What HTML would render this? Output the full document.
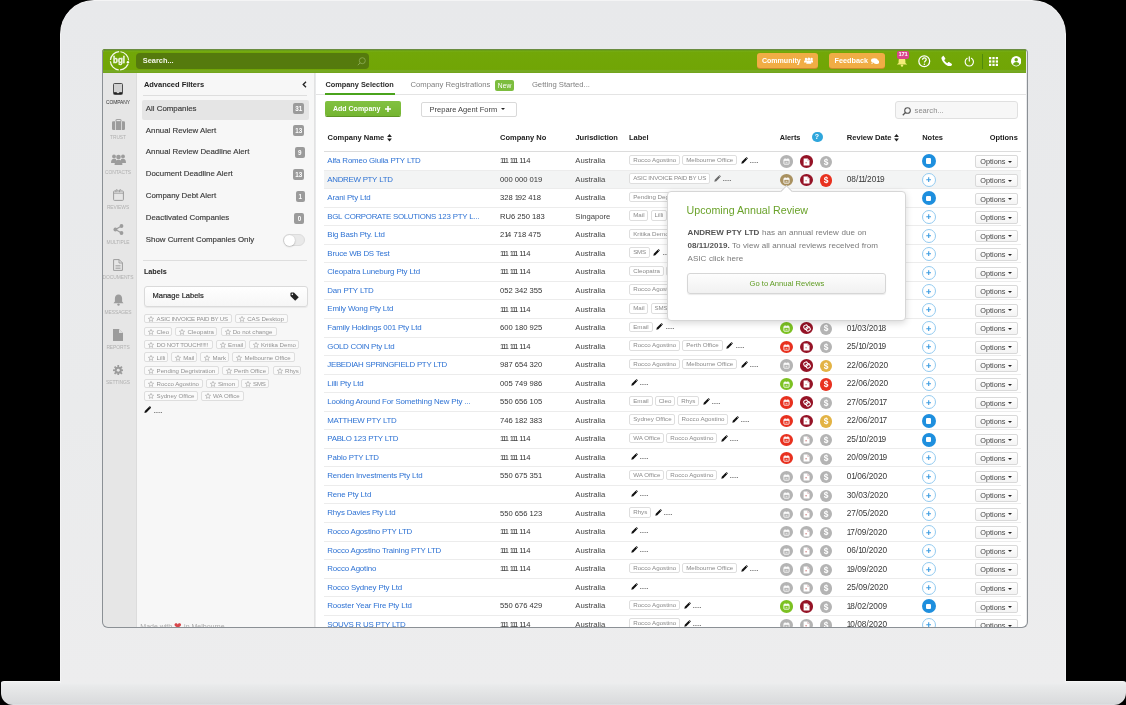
<!DOCTYPE html><html><head><meta charset="utf-8"><style>
*{box-sizing:border-box;margin:0;padding:0}
html,body{width:1126px;height:705px;overflow:hidden;background:#000}
body{position:relative;font-family:"Liberation Sans",sans-serif;color:#333}
.abs{position:absolute}
#lid{position:absolute;left:59.6px;top:0.3px;width:1006.6px;height:682.6px;background:linear-gradient(#e8e9eb,#eaebec 60%,#ededee);border-radius:34px 34px 0 0;border:1px solid #f4f4f5;border-bottom:none}
#base{position:absolute;left:0.5px;top:681.2px;width:1125px;height:23.8px;border-radius:3px 3px 12px 12px/2px 2px 12px 12px;border-top:1px solid #f6f6f6;background:linear-gradient(#eeeff0 0%,#e9eaeb 15%,#e3e4e5 45%,#dbdcde 85%,#d7d8da 95%,#e3e3e7 100%)}
#scr{position:absolute;left:0;top:0;width:1126px;height:705px;will-change:transform;clip-path:inset(49px 99.5px 78px 102px round 3px 3px 5px 5px)}
#scrbd{position:absolute;left:101.5px;top:48.5px;width:926px;height:579.2px;border:1.3px solid #8b9095;border-top:1px solid #6a8c40;border-radius:4px 4px 6px 6px}
#top{position:absolute;left:102px;top:49px;width:924px;height:24.2px;background:linear-gradient(#4c7f00 0,#4c7f00 1.3px,#7ab022 1.6px,#72a708 3px,#71a505 85%,#78ab28 91%,#71a318 100%)}
#logo{position:absolute;left:108.5px;top:49.6px}
#sbox{position:absolute;left:135.8px;top:53.3px;width:233px;height:15.6px;border-radius:4px;background:#557a0d}
#sbox span{position:absolute;left:7px;top:3.2px;font-size:7.4px;font-weight:bold;color:#f2f5ea;line-height:9px}
#side{position:absolute;left:102px;top:73px;width:35px;height:560px;background:#e6e6e6;border-right:1px solid #dcdcdc}
.sic{position:absolute;left:100.5px;width:35px;height:14px;display:flex;align-items:center;justify-content:center}
.slb{position:absolute;left:100.5px;width:35px;text-align:center;font-size:4.9px;line-height:6px;color:#b0b0b0;letter-spacing:-0.05px}
.slb.act{color:#333}
#fp{position:absolute;left:137px;top:73px;width:178.4px;height:560px;background:#f7f7f7;border-right:1px solid #e2e2e2}
.ftitle{position:absolute;left:143.9px;font-size:7.47px;font-weight:bold;color:#222;line-height:10px}
.hr{position:absolute;height:1px;background:#dedede}
#allc{position:absolute;left:142px;top:100px;width:166.5px;height:19.8px;background:#e5e5e5;border-radius:2px}
.flt{position:absolute;left:145.8px;font-size:7.86px;line-height:12px;color:#3a3a3a;-webkit-text-stroke:0.15px #3a3a3a}
.fb{position:absolute;left:0;width:305px;text-align:right;font-size:5.6px;line-height:11px;color:#fff}
.fb{display:none}
.fbx{position:absolute;height:11px;background:#9b9b9b;border-radius:2px;color:#fff;font-size:6.3px;font-weight:bold;line-height:11px;text-align:center;letter-spacing:-0.2px}
#tog{position:absolute;left:283px;top:234.3px;width:21.5px;height:11.5px;border-radius:6px;background:#e9e9e9;border:1px solid #dcdcdc}
#tog i{position:absolute;left:-0.5px;top:-0.5px;width:11px;height:11px;border-radius:50%;background:#fff;box-shadow:0 0.5px 1.5px rgba(0,0,0,.35)}
#mlab{position:absolute;left:143.9px;top:285.7px;width:163.8px;height:21px;background:linear-gradient(#fff,#f6f6f6);border:1px solid #dadada;border-radius:3px;box-shadow:0 1px 1px rgba(0,0,0,.06)}
#mlab span{position:absolute;left:7.6px;top:4.7px;font-size:7.5px;line-height:10px;color:#2a2a2a;-webkit-text-stroke:0.2px #2a2a2a}
.lchip{position:absolute;height:9.6px;border:1px solid #dedede;border-radius:2px;background:#fafafa;white-space:nowrap;overflow:hidden}
.lchip .star{position:absolute;left:3px;top:1.2px}
.lchip span{position:absolute;left:11.2px;top:0.3px;font-size:6.1px;line-height:7px;color:#929292}
#main{position:absolute;left:316px;top:73px;width:710px;height:560px;background:#fff}
.tab{position:absolute;top:80.4px;font-size:7.7px;line-height:10px;color:#808080;white-space:nowrap}
.row{position:absolute;left:324px;width:697px;height:18.545px;border-bottom:1px solid #ececec}
.row.hov{background:#f3f4f4}
.row > span{position:absolute}
.cn{left:3.3px;top:4.0px;font-size:7.9px;letter-spacing:-0.15px;line-height:9px;color:#2f73d4;white-space:nowrap}
.cno{left:176px;top:4.1px;font-size:7.6px;line-height:9px;color:#333;white-space:nowrap}
.jur{left:251.3px;top:4.1px;font-size:7.7px;line-height:9px;color:#444}
.lab{left:305.3px;top:2.5px;height:10.6px;display:flex;align-items:center;white-space:nowrap}
.chip{display:inline-block;height:10.6px;border:1px solid #dedede;border-radius:2px;padding:0 2.9px;font-size:6.2px;line-height:8.4px;color:#8a8a8a;margin-right:2.2px;background:#fff}
.chip.uc{letter-spacing:-0.2px}
.uc{font-style:normal;letter-spacing:-0.3px}
.pen{margin-left:1.4px;margin-right:2.4px;position:relative;top:0.2px}
.dots{position:relative;top:2.2px}
.n1{font-style:normal;letter-spacing:-1.35px}
.n1:last-child{letter-spacing:0}
.ai{position:absolute;top:3.3px;width:13px;height:12.2px;border-radius:50%;display:flex;align-items:center;justify-content:center}
.dol{font-size:8.4px;font-weight:bold;color:#fff;line-height:9px;position:relative;top:0.2px}
.ai2{width:12.2px !important;height:12.2px !important;margin-left:0.4px;margin-top:0.4px}
.rd{left:522.7px;top:4.6px;font-size:8.3px;line-height:9.5px;color:#3a3a3a}
.rd .n1{letter-spacing:-1.05px}
.nt{position:absolute;left:597.6px;top:2.3px;width:14px;height:14px;border-radius:50%}
.ntf{background:#1e8fde}
.ntf span{position:absolute;left:4.1px;top:4.1px;width:5.8px;height:5.8px;background:#fff;border-radius:1.1px}
.ntp{border:1px solid #93caef;background:#fff}
.ntp svg{position:absolute;left:3.3px;top:3.3px}
.opt{left:651.3px;top:3.4px;width:43.2px;height:12.7px;border:1px solid #d9d9d9;border-radius:2px;background:linear-gradient(#fff,#f4f4f4);font-size:7.3px;line-height:11px;color:#444;padding-left:4px}
.car{position:absolute;left:32.2px;top:4.5px;width:0;height:0;border-left:2.6px solid transparent;border-right:2.6px solid transparent;border-top:2.9px solid #222}
.hd{position:absolute;top:132.8px;font-size:7.5px;font-weight:bold;line-height:10px;color:#222;white-space:nowrap}
</style></head><body><div id="base"></div><div id="lid"></div><div id="scr"><div id="main"></div><div id="side"></div><div class="sic" style="top:82.2px"><svg width="10" height="12" viewBox="0 0 10 12" style="margin-top:-1px"><rect x="0.5" y="0.5" width="9" height="11" rx="1" fill="#d0d0d0" stroke="#3c3c3c" stroke-width="0.9"/><rect x="1" y="9.2" width="8" height="1.8" fill="#222"/><rect x="3.8" y="9.2" width="2.4" height="0.9" fill="#f2f2f2"/></svg></div><div class="slb act" style="top:99.7px">COMPANY</div><div class="sic" style="top:117.2px"><svg width="13" height="11" viewBox="0 0 13 11"><rect x="0" y="2.2" width="13" height="8.8" rx="1.2" fill="#9c9c9c"/><rect x="4" y="0.4" width="5" height="2.6" rx="0.6" fill="none" stroke="#9c9c9c" stroke-width="1"/><rect x="3" y="2.2" width="0.8" height="8.8" fill="#e4e4e4"/><rect x="9.2" y="2.2" width="0.8" height="8.8" fill="#e4e4e4"/></svg></div><div class="slb" style="top:135.0px">TRUST</div><div class="sic" style="top:152.0px"><svg width="15" height="11" viewBox="0 0 15 11"><circle cx="3" cy="2.4" r="1.9" fill="#9c9c9c"/><circle cx="12" cy="2.4" r="1.9" fill="#9c9c9c"/><circle cx="7.5" cy="3" r="2.3" fill="#9c9c9c"/><path d="M0 9c0-3 1.2-4.2 3-4.2s2 .6 2 .6v3.6z" fill="#9c9c9c"/><path d="M15 9c0-3-1.2-4.2-3-4.2s-2 .6-2 .6v3.6z" fill="#9c9c9c"/><path d="M3.6 11c0-4 1.6-5.3 3.9-5.3s3.9 1.3 3.9 5.3z" fill="#9c9c9c"/></svg></div><div class="slb" style="top:169.5px">CONTACTS</div><div class="sic" style="top:187.5px"><svg width="11" height="12" viewBox="0 0 11 12"><rect x="0.6" y="2" width="9.8" height="9.4" rx="0.8" fill="none" stroke="#9c9c9c" stroke-width="1"/><path d="M0.6 4.2h9.8" stroke="#9c9c9c" stroke-width="0.9"/><path d="M2.9 3.2V1.4a0.8 0.8 0 0 1 1.6 0M6.5 3.2V1.4a0.8 0.8 0 0 1 1.6 0" fill="none" stroke="#9c9c9c" stroke-width="0.9"/></svg></div><div class="slb" style="top:204.7px">REVIEWS</div><div class="sic" style="top:222.7px"><svg width="11" height="11" viewBox="0 0 11 11"><path d="M8.5 2L2.5 5.5L8.5 9" stroke="#9c9c9c" stroke-width="1.1" fill="none"/><circle cx="8.5" cy="2" r="1.9" fill="#9c9c9c"/><circle cx="2.4" cy="5.5" r="1.9" fill="#9c9c9c"/><circle cx="8.5" cy="9" r="1.9" fill="#9c9c9c"/></svg></div><div class="slb" style="top:239.8px">MULTIPLE</div><div class="sic" style="top:257.8px"><svg width="10" height="12" viewBox="0 0 10 12"><path d="M0.6 0.6h5.6l3.2 3.2v7.6h-8.8z" fill="none" stroke="#9c9c9c" stroke-width="1"/><path d="M6 0.6v3.4h3.4" fill="none" stroke="#9c9c9c" stroke-width="0.9"/><path d="M2.5 6.5h5M2.5 8h5M2.5 9.5h5" stroke="#9c9c9c" stroke-width="0.7"/></svg></div><div class="slb" style="top:275.0px">DOCUMENTS</div><div class="sic" style="top:292.6px"><svg width="11" height="12" viewBox="0 0 11 12"><path d="M5.5 0.5c-2.4 0-3.6 1.8-3.6 4v3L0.5 9.3h10L9.1 7.5v-3c0-2.2-1.2-4-3.6-4z" fill="#9c9c9c"/><circle cx="5.5" cy="10.6" r="1.2" fill="#9c9c9c"/></svg></div><div class="slb" style="top:310.0px">MESSAGES</div><div class="sic" style="top:328.0px"><svg width="10" height="12" viewBox="0 0 10 12"><path d="M0 0h6l4 4v8h-10z" fill="#9c9c9c"/><path d="M6 0v4h4" fill="#ddd"/></svg></div><div class="slb" style="top:344.8px">REPORTS</div><div class="sic" style="top:362.8px"><svg width="10.5" height="10.5" viewBox="0 0 12 12"><g fill="#9c9c9c"><circle cx="6" cy="6" r="4"/><rect x="5" y="0" width="2" height="12"/><rect x="0" y="5" width="12" height="2"/><rect x="5" y="0" width="2" height="12" transform="rotate(45 6 6)"/><rect x="5" y="0" width="2" height="12" transform="rotate(-45 6 6)"/></g><circle cx="6" cy="6" r="1.7" fill="#e6e6e6"/></svg></div><div class="slb" style="top:380.1px">SETTINGS</div><div id="fp"></div><div class="ftitle" style="top:79.5px">Advanced Filters</div><svg class="abs" style="left:301.5px;top:81px" width="5" height="7" viewBox="0 0 5 7"><path d="M4 0.7L1.2 3.5 4 6.3" stroke="#222" stroke-width="1.3" fill="none"/></svg><div class="hr" style="left:143px;top:94.5px;width:164px"></div><div id="allc"></div><div class="flt" style="top:102.7px">All Companies</div><div class="fb" style="top:103.3px">31</div><div class="flt" style="top:124.7px">Annual Review Alert</div><div class="fb" style="top:125.3px">13</div><div class="flt" style="top:146.2px">Annual Review Deadline Alert</div><div class="fb" style="top:146.8px">9</div><div class="flt" style="top:168.1px">Document Deadline Alert</div><div class="fb" style="top:168.7px">13</div><div class="flt" style="top:190.0px">Company Debt Alert</div><div class="fb" style="top:190.6px">1</div><div class="flt" style="top:212.0px">Deactivated Companies</div><div class="fb" style="top:212.6px">0</div><div class="fbx" style="left:292.8px;top:103.2px;width:11.7px">31</div><div class="fbx" style="left:292.8px;top:125.2px;width:11.7px">13</div><div class="fbx" style="left:295px;top:146.7px;width:9.5px">9</div><div class="fbx" style="left:292.8px;top:168.6px;width:11.7px">13</div><div class="fbx" style="left:296px;top:190.5px;width:8.5px">1</div><div class="fbx" style="left:294.4px;top:212.5px;width:10.1px">0</div><div class="flt" style="top:234px">Show Current Companies Only</div><div id="tog"><i></i></div><div class="hr" style="left:143px;top:260px;width:164px"></div><div class="ftitle" style="top:267.2px;font-size:7.26px">Labels</div><div id="mlab"><span>Manage Labels</span><svg class="abs" style="left:145.5px;top:5px" width="9" height="9" viewBox="0 0 10 10"><path d="M0.5 1.2v3.2l5.3 5.3 3.9-3.9L4.4 0.5H1.2z" fill="#222"/><circle cx="2.6" cy="2.6" r="0.9" fill="#fff"/></svg></div><div class="lchip" style="left:144.4px;top:313.9px;width:88.1px"><svg class="star" width="6" height="6" viewBox="0 0 10 10"><path d="M5 0.6l1.3 2.9 3.1.3-2.4 2.1.7 3.1L5 7.4 2.3 9l.7-3.1L.6 3.8l3.1-.3z" fill="none" stroke="#999" stroke-width="0.9" stroke-linejoin="round"/></svg><span style="white-space:nowrap;letter-spacing:-0.22px">ASIC INVOICE PAID BY US</span></div><div class="lchip" style="left:235.0px;top:313.9px;width:52.6px"><svg class="star" width="6" height="6" viewBox="0 0 10 10"><path d="M5 0.6l1.3 2.9 3.1.3-2.4 2.1.7 3.1L5 7.4 2.3 9l.7-3.1L.6 3.8l3.1-.3z" fill="none" stroke="#999" stroke-width="0.9" stroke-linejoin="round"/></svg><span style="white-space:nowrap">CAS Desktop</span></div><div class="lchip" style="left:144.4px;top:326.7px;width:28.1px"><svg class="star" width="6" height="6" viewBox="0 0 10 10"><path d="M5 0.6l1.3 2.9 3.1.3-2.4 2.1.7 3.1L5 7.4 2.3 9l.7-3.1L.6 3.8l3.1-.3z" fill="none" stroke="#999" stroke-width="0.9" stroke-linejoin="round"/></svg><span style="white-space:nowrap">Cleo</span></div><div class="lchip" style="left:175.3px;top:326.7px;width:42.1px"><svg class="star" width="6" height="6" viewBox="0 0 10 10"><path d="M5 0.6l1.3 2.9 3.1.3-2.4 2.1.7 3.1L5 7.4 2.3 9l.7-3.1L.6 3.8l3.1-.3z" fill="none" stroke="#999" stroke-width="0.9" stroke-linejoin="round"/></svg><span style="white-space:nowrap">Cleopatra</span></div><div class="lchip" style="left:220.5px;top:326.7px;width:56.1px"><svg class="star" width="6" height="6" viewBox="0 0 10 10"><path d="M5 0.6l1.3 2.9 3.1.3-2.4 2.1.7 3.1L5 7.4 2.3 9l.7-3.1L.6 3.8l3.1-.3z" fill="none" stroke="#999" stroke-width="0.9" stroke-linejoin="round"/></svg><span style="white-space:nowrap">Do not change</span></div><div class="lchip" style="left:144.4px;top:339.7px;width:68.9px"><svg class="star" width="6" height="6" viewBox="0 0 10 10"><path d="M5 0.6l1.3 2.9 3.1.3-2.4 2.1.7 3.1L5 7.4 2.3 9l.7-3.1L.6 3.8l3.1-.3z" fill="none" stroke="#999" stroke-width="0.9" stroke-linejoin="round"/></svg><span style="white-space:nowrap;letter-spacing:-0.22px">DO NOT TOUCH!!!!!</span></div><div class="lchip" style="left:215.9px;top:339.7px;width:30.1px"><svg class="star" width="6" height="6" viewBox="0 0 10 10"><path d="M5 0.6l1.3 2.9 3.1.3-2.4 2.1.7 3.1L5 7.4 2.3 9l.7-3.1L.6 3.8l3.1-.3z" fill="none" stroke="#999" stroke-width="0.9" stroke-linejoin="round"/></svg><span style="white-space:nowrap">Email</span></div><div class="lchip" style="left:248.8px;top:339.7px;width:50.2px"><svg class="star" width="6" height="6" viewBox="0 0 10 10"><path d="M5 0.6l1.3 2.9 3.1.3-2.4 2.1.7 3.1L5 7.4 2.3 9l.7-3.1L.6 3.8l3.1-.3z" fill="none" stroke="#999" stroke-width="0.9" stroke-linejoin="round"/></svg><span style="white-space:nowrap">Kritika Demo</span></div><div class="lchip" style="left:144.4px;top:352.4px;width:23.8px"><svg class="star" width="6" height="6" viewBox="0 0 10 10"><path d="M5 0.6l1.3 2.9 3.1.3-2.4 2.1.7 3.1L5 7.4 2.3 9l.7-3.1L.6 3.8l3.1-.3z" fill="none" stroke="#999" stroke-width="0.9" stroke-linejoin="round"/></svg><span style="white-space:nowrap">Lilli</span></div><div class="lchip" style="left:171.0px;top:352.4px;width:26.3px"><svg class="star" width="6" height="6" viewBox="0 0 10 10"><path d="M5 0.6l1.3 2.9 3.1.3-2.4 2.1.7 3.1L5 7.4 2.3 9l.7-3.1L.6 3.8l3.1-.3z" fill="none" stroke="#999" stroke-width="0.9" stroke-linejoin="round"/></svg><span style="white-space:nowrap">Mail</span></div><div class="lchip" style="left:200.3px;top:352.4px;width:29.1px"><svg class="star" width="6" height="6" viewBox="0 0 10 10"><path d="M5 0.6l1.3 2.9 3.1.3-2.4 2.1.7 3.1L5 7.4 2.3 9l.7-3.1L.6 3.8l3.1-.3z" fill="none" stroke="#999" stroke-width="0.9" stroke-linejoin="round"/></svg><span style="white-space:nowrap">Mark</span></div><div class="lchip" style="left:232.2px;top:352.4px;width:63.0px"><svg class="star" width="6" height="6" viewBox="0 0 10 10"><path d="M5 0.6l1.3 2.9 3.1.3-2.4 2.1.7 3.1L5 7.4 2.3 9l.7-3.1L.6 3.8l3.1-.3z" fill="none" stroke="#999" stroke-width="0.9" stroke-linejoin="round"/></svg><span style="white-space:nowrap">Melbourne Office</span></div><div class="lchip" style="left:144.4px;top:365.7px;width:74.8px"><svg class="star" width="6" height="6" viewBox="0 0 10 10"><path d="M5 0.6l1.3 2.9 3.1.3-2.4 2.1.7 3.1L5 7.4 2.3 9l.7-3.1L.6 3.8l3.1-.3z" fill="none" stroke="#999" stroke-width="0.9" stroke-linejoin="round"/></svg><span style="white-space:nowrap">Pending Degristration</span></div><div class="lchip" style="left:221.8px;top:365.7px;width:47.7px"><svg class="star" width="6" height="6" viewBox="0 0 10 10"><path d="M5 0.6l1.3 2.9 3.1.3-2.4 2.1.7 3.1L5 7.4 2.3 9l.7-3.1L.6 3.8l3.1-.3z" fill="none" stroke="#999" stroke-width="0.9" stroke-linejoin="round"/></svg><span style="white-space:nowrap">Perth Office</span></div><div class="lchip" style="left:272.8px;top:365.7px;width:28.6px"><svg class="star" width="6" height="6" viewBox="0 0 10 10"><path d="M5 0.6l1.3 2.9 3.1.3-2.4 2.1.7 3.1L5 7.4 2.3 9l.7-3.1L.6 3.8l3.1-.3z" fill="none" stroke="#999" stroke-width="0.9" stroke-linejoin="round"/></svg><span style="white-space:nowrap">Rhys</span></div><div class="lchip" style="left:144.4px;top:378.5px;width:59.0px"><svg class="star" width="6" height="6" viewBox="0 0 10 10"><path d="M5 0.6l1.3 2.9 3.1.3-2.4 2.1.7 3.1L5 7.4 2.3 9l.7-3.1L.6 3.8l3.1-.3z" fill="none" stroke="#999" stroke-width="0.9" stroke-linejoin="round"/></svg><span style="white-space:nowrap">Rocco Agostino</span></div><div class="lchip" style="left:205.7px;top:378.5px;width:32.9px"><svg class="star" width="6" height="6" viewBox="0 0 10 10"><path d="M5 0.6l1.3 2.9 3.1.3-2.4 2.1.7 3.1L5 7.4 2.3 9l.7-3.1L.6 3.8l3.1-.3z" fill="none" stroke="#999" stroke-width="0.9" stroke-linejoin="round"/></svg><span style="white-space:nowrap">Simon</span></div><div class="lchip" style="left:240.9px;top:378.5px;width:28.6px"><svg class="star" width="6" height="6" viewBox="0 0 10 10"><path d="M5 0.6l1.3 2.9 3.1.3-2.4 2.1.7 3.1L5 7.4 2.3 9l.7-3.1L.6 3.8l3.1-.3z" fill="none" stroke="#999" stroke-width="0.9" stroke-linejoin="round"/></svg><span style="white-space:nowrap;letter-spacing:-0.22px">SMS</span></div><div class="lchip" style="left:144.4px;top:391.2px;width:53.6px"><svg class="star" width="6" height="6" viewBox="0 0 10 10"><path d="M5 0.6l1.3 2.9 3.1.3-2.4 2.1.7 3.1L5 7.4 2.3 9l.7-3.1L.6 3.8l3.1-.3z" fill="none" stroke="#999" stroke-width="0.9" stroke-linejoin="round"/></svg><span style="white-space:nowrap">Sydney Office</span></div><div class="lchip" style="left:200.8px;top:391.2px;width:42.9px"><svg class="star" width="6" height="6" viewBox="0 0 10 10"><path d="M5 0.6l1.3 2.9 3.1.3-2.4 2.1.7 3.1L5 7.4 2.3 9l.7-3.1L.6 3.8l3.1-.3z" fill="none" stroke="#999" stroke-width="0.9" stroke-linejoin="round"/></svg><span style="white-space:nowrap">WA Office</span></div><svg class="abs" style="left:144px;top:405.6px" width="7.4" height="7.4" viewBox="0 0 7 7"><path d="M0.4 6.6l0.4-1.9 4-4 1.5 1.5-4 4z" fill="#111"/><path d="M4.9 0.6l0.6-0.5 1.4 1.4-0.5 0.6z" fill="#111"/></svg><div class="abs" style="left:153.5px;top:408.6px;line-height:0"><svg  width="9" height="3" viewBox="0 0 9 3"><g fill="#444"><circle cx="0.8" cy="1.5" r="0.55"/><circle cx="2.95" cy="1.5" r="0.55"/><circle cx="5.1" cy="1.5" r="0.55"/><circle cx="7.25" cy="1.5" r="0.55"/></g></svg></div><div class="abs" style="left:140.3px;top:623.1px;font-size:7px;color:#aaa;white-space:nowrap">Made with <span style="color:#d8474b;font-size:8.5px;line-height:7px">&#10084;</span> in Melbourne</div><div class="hr" style="left:316px;top:93.8px;width:710px;background:#e4e4e4"></div><div class="tab" style="left:325.4px;top:79.6px;color:#2a2a2a;font-weight:bold;font-size:7.37px">Company Selection</div><div class="abs" style="left:324.5px;top:92.7px;width:70.5px;height:1.9px;background:#4aa31c"></div><div class="tab" style="left:410.5px">Company Registrations</div><div class="abs" style="left:495.2px;top:79.6px;width:18.7px;height:11.2px;background:#7cbd3e;border-radius:2px;color:#fff;font-size:6.7px;line-height:11.2px;text-align:center">New</div><div class="tab" style="left:531.9px">Getting Started...</div><div class="abs" style="left:324.5px;top:101.2px;width:76.2px;height:15.2px;background:linear-gradient(#82c142,#74b530);border-radius:2px;box-shadow:0 1px 0 #5e9524;color:#fff;font-size:7px;font-weight:bold;line-height:15.4px;padding-left:8.5px">Add Company<svg class="abs" style="left:60.5px;top:4.5px" width="6" height="6" viewBox="0 0 6 6"><path d="M3 0v6M0 3h6" stroke="#fff" stroke-width="1.5"/></svg></div><div class="abs" style="left:420.6px;top:102.3px;width:96.2px;height:14.5px;background:#fff;border:1px solid #d9d9d9;border-radius:2px;color:#444;font-size:7.53px;line-height:13.5px;padding-left:8px">Prepare Agent Form<i class="car" style="left:79.6px;top:5.2px"></i></div><div class="abs" style="left:895px;top:101.2px;width:123px;height:18.3px;background:#f7f7f7;border:1px solid #e0e0e0;border-radius:3px"></div><svg class="abs" style="left:902px;top:106.8px" width="9" height="9" viewBox="0 0 8 8"><circle cx="4.9" cy="3.1" r="2.5" fill="none" stroke="#555" stroke-width="0.95"/><path d="M3.1 4.9L0.7 7.3" stroke="#555" stroke-width="1.1"/></svg><div class="abs" style="left:914.6px;top:106.3px;font-size:7.6px;line-height:10px;color:#8a8a8a">search...</div><div class="hd" style="left:327.6px">Company Name<svg style="position:absolute;top:1.3px;margin-left:2.6px" width="5" height="7.6" viewBox="0 0 4.4 7"><path d="M2.2 0L4.4 2.8H0z M2.2 7L4.4 4.2H0z" fill="#222"/></svg></div><div class="hd" style="left:500px">Company No</div><div class="hd" style="left:575.4px">Jurisdiction</div><div class="hd" style="left:629px">Label</div><div class="hd" style="left:779.7px;font-size:7.3px">Alerts</div><div class="abs" style="left:811.5px;top:132.2px;width:11px;height:10px;border-radius:5px;background:#2fa6dc;color:#fff;font-size:7px;font-weight:bold;line-height:10px;text-align:center">?</div><div class="hd" style="left:846.8px;font-size:7.6px">Review Date<svg style="position:absolute;top:1.3px;margin-left:2.6px" width="5" height="7.6" viewBox="0 0 4.4 7"><path d="M2.2 0L4.4 2.8H0z M2.2 7L4.4 4.2H0z" fill="#222"/></svg></div><div class="hd" style="left:922.2px">Notes</div><div class="hd" style="left:989.7px;font-size:7.45px">Options</div><div class="abs" style="left:324px;top:151px;width:697px;height:1.3px;background:#dcdcdc"></div><div class="row" style="top:152.10px"><span class="cn">Alfa Romeo Giulia <i class="uc">PTY</i> <i class="uc">LTD</i></span><span class="cno"><i class="n1">1</i><i class="n1">1</i><i class="n1">1</i> <i class="n1">1</i><i class="n1">1</i><i class="n1">1</i> <i class="n1">1</i><i class="n1">1</i>4</span><span class="jur">Australia</span><span class="lab"><span class="chip">Rocco Agostino</span><span class="chip">Melbourne Office</span><svg class="pen" width="7" height="7" viewBox="0 0 7 7"><path d="M0.3 6.7l0.5-2 3.9-3.9 1.5 1.5-3.9 3.9z" fill="#111"/><path d="M5 0.5l0.6-0.5 1.4 1.4-0.5 0.6z" fill="#111"/></svg><svg class="dots" width="9" height="3" viewBox="0 0 9 3"><g fill="#444"><circle cx="0.8" cy="1.5" r="0.55"/><circle cx="2.95" cy="1.5" r="0.55"/><circle cx="5.1" cy="1.5" r="0.55"/><circle cx="7.25" cy="1.5" r="0.55"/></g></svg></span><span class="ai" style="left:455.5px;background:#b4b4b4"><svg width="7" height="7" viewBox="0 0 7 7" style="margin-top:0.6px"><rect x="0.9" y="1.3" width="5.2" height="4.9" rx="0.5" fill="none" stroke="#fff" stroke-width="0.85"/><rect x="0.9" y="1.3" width="5.2" height="1.5" fill="#fff"/><rect x="1.7" y="0.4" width="0.8" height="1.3" fill="#fff"/><rect x="4.5" y="0.4" width="0.8" height="1.3" fill="#fff"/><rect x="2.6" y="3.8" width="1.8" height="1.3" fill="#fff" opacity="0.55"/></svg></span><span class="ai" style="left:476px;background:#951326"><svg width="7" height="8" viewBox="0 0 7 8" style="margin-top:0.4px"><path d="M0.6 0.6h4l1.9 1.9v5h-5.9z" fill="#fff"/><path d="M4.6 0.6v1.9h1.9" fill="none" stroke="#c9a0a6" stroke-width="0.5"/><rect x="2.4" y="4" width="1.4" height="1.4" fill="#c77" opacity="0.8"/></svg></span><span class="ai ai2" style="left:495.5px;background:#b4b4b4"><span class="dol">$</span></span><span class="nt ntf"><span></span></span><span class="opt">Options <i class="car"></i></span></div>
<div class="row hov" style="top:170.64px"><span class="cn"><i class="uc">ANDREW</i> <i class="uc">PTY</i> <i class="uc">LTD</i></span><span class="cno">000 000 0<i class="n1">1</i>9</span><span class="jur">Australia</span><span class="lab"><span class="chip uc">ASIC INVOICE PAID BY US</span><svg class="pen" width="7" height="7" viewBox="0 0 7 7"><path d="M0.3 6.7l0.5-2 3.9-3.9 1.5 1.5-3.9 3.9z" fill="#6a6a6a"/><path d="M5 0.5l0.6-0.5 1.4 1.4-0.5 0.6z" fill="#6a6a6a"/></svg><svg class="dots" width="9" height="3" viewBox="0 0 9 3"><g fill="#444"><circle cx="0.8" cy="1.5" r="0.55"/><circle cx="2.95" cy="1.5" r="0.55"/><circle cx="5.1" cy="1.5" r="0.55"/><circle cx="7.25" cy="1.5" r="0.55"/></g></svg></span><span class="ai" style="left:455.5px;background:#a99160"><svg width="7" height="7" viewBox="0 0 7 7" style="margin-top:0.6px"><rect x="0.9" y="1.3" width="5.2" height="4.9" rx="0.5" fill="none" stroke="#fff" stroke-width="0.85"/><rect x="0.9" y="1.3" width="5.2" height="1.5" fill="#fff"/><rect x="1.7" y="0.4" width="0.8" height="1.3" fill="#fff"/><rect x="4.5" y="0.4" width="0.8" height="1.3" fill="#fff"/><rect x="2.6" y="3.8" width="1.8" height="1.3" fill="#fff" opacity="0.55"/></svg></span><span class="ai" style="left:476px;background:#951326"><svg width="7" height="8" viewBox="0 0 7 8" style="margin-top:0.4px"><path d="M0.6 0.6h4l1.9 1.9v5h-5.9z" fill="#fff"/><path d="M4.6 0.6v1.9h1.9" fill="none" stroke="#c9a0a6" stroke-width="0.5"/><rect x="2.4" y="4" width="1.4" height="1.4" fill="#c77" opacity="0.8"/></svg></span><span class="ai ai2" style="left:495.5px;background:#e8311f"><span class="dol">$</span></span><span class="rd">08/<i class="n1">1</i><i class="n1">1</i>/20<i class="n1">1</i>9</span><span class="nt ntp"><svg width="5.4" height="5.4" viewBox="0 0 6 6"><path d="M3 0.3v5.4M0.3 3h5.4" stroke="#3d9de2" stroke-width="1.25"/></svg></span><span class="opt">Options <i class="car"></i></span></div>
<div class="row" style="top:189.19px"><span class="cn">Arani Pty Ltd</span><span class="cno">328 <i class="n1">1</i>92 4<i class="n1">1</i>8</span><span class="jur">Australia</span><span class="lab"><span class="chip">Pending Degristration</span><svg class="pen" width="7" height="7" viewBox="0 0 7 7"><path d="M0.3 6.7l0.5-2 3.9-3.9 1.5 1.5-3.9 3.9z" fill="#111"/><path d="M5 0.5l0.6-0.5 1.4 1.4-0.5 0.6z" fill="#111"/></svg><svg class="dots" width="9" height="3" viewBox="0 0 9 3"><g fill="#444"><circle cx="0.8" cy="1.5" r="0.55"/><circle cx="2.95" cy="1.5" r="0.55"/><circle cx="5.1" cy="1.5" r="0.55"/><circle cx="7.25" cy="1.5" r="0.55"/></g></svg></span><span class="nt ntf"><span></span></span><span class="opt">Options <i class="car"></i></span></div>
<div class="row" style="top:207.74px"><span class="cn"><i class="uc">BGL</i> <i class="uc">CORPORATE</i> <i class="uc">SOLUTIONS</i> 123 <i class="uc">PTY</i> L...</span><span class="cno">RU6 250 <i class="n1">1</i>83</span><span class="jur">Singapore</span><span class="lab"><span class="chip">Mail</span><span class="chip">Lilli</span><svg class="pen" width="7" height="7" viewBox="0 0 7 7"><path d="M0.3 6.7l0.5-2 3.9-3.9 1.5 1.5-3.9 3.9z" fill="#111"/><path d="M5 0.5l0.6-0.5 1.4 1.4-0.5 0.6z" fill="#111"/></svg><svg class="dots" width="9" height="3" viewBox="0 0 9 3"><g fill="#444"><circle cx="0.8" cy="1.5" r="0.55"/><circle cx="2.95" cy="1.5" r="0.55"/><circle cx="5.1" cy="1.5" r="0.55"/><circle cx="7.25" cy="1.5" r="0.55"/></g></svg></span><span class="nt ntp"><svg width="5.4" height="5.4" viewBox="0 0 6 6"><path d="M3 0.3v5.4M0.3 3h5.4" stroke="#3d9de2" stroke-width="1.25"/></svg></span><span class="opt">Options <i class="car"></i></span></div>
<div class="row" style="top:226.28px"><span class="cn">Big Bash Pty. Ltd</span><span class="cno">2<i class="n1">1</i>4 7<i class="n1">1</i>8 475</span><span class="jur">Australia</span><span class="lab"><span class="chip">Kritika Demo</span><svg class="pen" width="7" height="7" viewBox="0 0 7 7"><path d="M0.3 6.7l0.5-2 3.9-3.9 1.5 1.5-3.9 3.9z" fill="#111"/><path d="M5 0.5l0.6-0.5 1.4 1.4-0.5 0.6z" fill="#111"/></svg><svg class="dots" width="9" height="3" viewBox="0 0 9 3"><g fill="#444"><circle cx="0.8" cy="1.5" r="0.55"/><circle cx="2.95" cy="1.5" r="0.55"/><circle cx="5.1" cy="1.5" r="0.55"/><circle cx="7.25" cy="1.5" r="0.55"/></g></svg></span><span class="nt ntp"><svg width="5.4" height="5.4" viewBox="0 0 6 6"><path d="M3 0.3v5.4M0.3 3h5.4" stroke="#3d9de2" stroke-width="1.25"/></svg></span><span class="opt">Options <i class="car"></i></span></div>
<div class="row" style="top:244.82px"><span class="cn">Bruce <i class="uc">WB</i> <i class="uc">DS</i> Test</span><span class="cno"><i class="n1">1</i><i class="n1">1</i><i class="n1">1</i> <i class="n1">1</i><i class="n1">1</i><i class="n1">1</i> <i class="n1">1</i><i class="n1">1</i>4</span><span class="jur">Australia</span><span class="lab"><span class="chip uc">SMS</span><svg class="pen" width="7" height="7" viewBox="0 0 7 7"><path d="M0.3 6.7l0.5-2 3.9-3.9 1.5 1.5-3.9 3.9z" fill="#111"/><path d="M5 0.5l0.6-0.5 1.4 1.4-0.5 0.6z" fill="#111"/></svg><svg class="dots" width="9" height="3" viewBox="0 0 9 3"><g fill="#444"><circle cx="0.8" cy="1.5" r="0.55"/><circle cx="2.95" cy="1.5" r="0.55"/><circle cx="5.1" cy="1.5" r="0.55"/><circle cx="7.25" cy="1.5" r="0.55"/></g></svg></span><span class="nt ntp"><svg width="5.4" height="5.4" viewBox="0 0 6 6"><path d="M3 0.3v5.4M0.3 3h5.4" stroke="#3d9de2" stroke-width="1.25"/></svg></span><span class="opt">Options <i class="car"></i></span></div>
<div class="row" style="top:263.37px"><span class="cn">Cleopatra Luneburg Pty Ltd</span><span class="cno"><i class="n1">1</i><i class="n1">1</i><i class="n1">1</i> <i class="n1">1</i><i class="n1">1</i><i class="n1">1</i> <i class="n1">1</i><i class="n1">1</i>4</span><span class="jur">Australia</span><span class="lab"><span class="chip">Cleopatra</span><span class="chip">Cleo</span><svg class="pen" width="7" height="7" viewBox="0 0 7 7"><path d="M0.3 6.7l0.5-2 3.9-3.9 1.5 1.5-3.9 3.9z" fill="#111"/><path d="M5 0.5l0.6-0.5 1.4 1.4-0.5 0.6z" fill="#111"/></svg><svg class="dots" width="9" height="3" viewBox="0 0 9 3"><g fill="#444"><circle cx="0.8" cy="1.5" r="0.55"/><circle cx="2.95" cy="1.5" r="0.55"/><circle cx="5.1" cy="1.5" r="0.55"/><circle cx="7.25" cy="1.5" r="0.55"/></g></svg></span><span class="nt ntp"><svg width="5.4" height="5.4" viewBox="0 0 6 6"><path d="M3 0.3v5.4M0.3 3h5.4" stroke="#3d9de2" stroke-width="1.25"/></svg></span><span class="opt">Options <i class="car"></i></span></div>
<div class="row" style="top:281.91px"><span class="cn">Dan <i class="uc">PTY</i> <i class="uc">LTD</i></span><span class="cno">052 342 355</span><span class="jur">Australia</span><span class="lab"><span class="chip">Rocco Agostino</span><svg class="pen" width="7" height="7" viewBox="0 0 7 7"><path d="M0.3 6.7l0.5-2 3.9-3.9 1.5 1.5-3.9 3.9z" fill="#111"/><path d="M5 0.5l0.6-0.5 1.4 1.4-0.5 0.6z" fill="#111"/></svg><svg class="dots" width="9" height="3" viewBox="0 0 9 3"><g fill="#444"><circle cx="0.8" cy="1.5" r="0.55"/><circle cx="2.95" cy="1.5" r="0.55"/><circle cx="5.1" cy="1.5" r="0.55"/><circle cx="7.25" cy="1.5" r="0.55"/></g></svg></span><span class="nt ntp"><svg width="5.4" height="5.4" viewBox="0 0 6 6"><path d="M3 0.3v5.4M0.3 3h5.4" stroke="#3d9de2" stroke-width="1.25"/></svg></span><span class="opt">Options <i class="car"></i></span></div>
<div class="row" style="top:300.46px"><span class="cn">Emily Wong Pty Ltd</span><span class="cno"><i class="n1">1</i><i class="n1">1</i><i class="n1">1</i> <i class="n1">1</i><i class="n1">1</i><i class="n1">1</i> <i class="n1">1</i><i class="n1">1</i>4</span><span class="jur">Australia</span><span class="lab"><span class="chip">Mail</span><span class="chip uc">SMS</span><svg class="pen" width="7" height="7" viewBox="0 0 7 7"><path d="M0.3 6.7l0.5-2 3.9-3.9 1.5 1.5-3.9 3.9z" fill="#111"/><path d="M5 0.5l0.6-0.5 1.4 1.4-0.5 0.6z" fill="#111"/></svg><svg class="dots" width="9" height="3" viewBox="0 0 9 3"><g fill="#444"><circle cx="0.8" cy="1.5" r="0.55"/><circle cx="2.95" cy="1.5" r="0.55"/><circle cx="5.1" cy="1.5" r="0.55"/><circle cx="7.25" cy="1.5" r="0.55"/></g></svg></span><span class="nt ntp"><svg width="5.4" height="5.4" viewBox="0 0 6 6"><path d="M3 0.3v5.4M0.3 3h5.4" stroke="#3d9de2" stroke-width="1.25"/></svg></span><span class="opt">Options <i class="car"></i></span></div>
<div class="row" style="top:319.00px"><span class="cn">Family Holdings 001 Pty Ltd</span><span class="cno">600 <i class="n1">1</i>80 925</span><span class="jur">Australia</span><span class="lab"><span class="chip">Email</span><svg class="pen" width="7" height="7" viewBox="0 0 7 7"><path d="M0.3 6.7l0.5-2 3.9-3.9 1.5 1.5-3.9 3.9z" fill="#111"/><path d="M5 0.5l0.6-0.5 1.4 1.4-0.5 0.6z" fill="#111"/></svg><svg class="dots" width="9" height="3" viewBox="0 0 9 3"><g fill="#444"><circle cx="0.8" cy="1.5" r="0.55"/><circle cx="2.95" cy="1.5" r="0.55"/><circle cx="5.1" cy="1.5" r="0.55"/><circle cx="7.25" cy="1.5" r="0.55"/></g></svg></span><span class="ai" style="left:455.5px;background:#7cc122"><svg width="7" height="7" viewBox="0 0 7 7" style="margin-top:0.6px"><rect x="0.9" y="1.3" width="5.2" height="4.9" rx="0.5" fill="none" stroke="#fff" stroke-width="0.85"/><rect x="0.9" y="1.3" width="5.2" height="1.5" fill="#fff"/><rect x="1.7" y="0.4" width="0.8" height="1.3" fill="#fff"/><rect x="4.5" y="0.4" width="0.8" height="1.3" fill="#fff"/><rect x="2.6" y="3.8" width="1.8" height="1.3" fill="#fff" opacity="0.55"/></svg></span><span class="ai" style="left:476px;background:#951326"><svg width="8" height="8" viewBox="0 0 8 8"><rect x="0.9" y="1.2" width="4" height="4" rx="1.4" fill="none" stroke="#fff" stroke-width="1.05" transform="rotate(-30 2.9 3.2)"/><rect x="3.1" y="2.9" width="4" height="4" rx="1.4" fill="none" stroke="#fff" stroke-width="1.05" transform="rotate(-30 5.1 4.9)"/></svg></span><span class="ai ai2" style="left:495.5px;background:#b4b4b4"><span class="dol">$</span></span><span class="rd">0<i class="n1">1</i>/03/20<i class="n1">1</i>8</span><span class="nt ntp"><svg width="5.4" height="5.4" viewBox="0 0 6 6"><path d="M3 0.3v5.4M0.3 3h5.4" stroke="#3d9de2" stroke-width="1.25"/></svg></span><span class="opt">Options <i class="car"></i></span></div>
<div class="row" style="top:337.55px"><span class="cn"><i class="uc">GOLD</i> <i class="uc">COIN</i> Pty Ltd</span><span class="cno"><i class="n1">1</i><i class="n1">1</i><i class="n1">1</i> <i class="n1">1</i><i class="n1">1</i><i class="n1">1</i> <i class="n1">1</i><i class="n1">1</i>4</span><span class="jur">Australia</span><span class="lab"><span class="chip">Rocco Agostino</span><span class="chip">Perth Office</span><svg class="pen" width="7" height="7" viewBox="0 0 7 7"><path d="M0.3 6.7l0.5-2 3.9-3.9 1.5 1.5-3.9 3.9z" fill="#111"/><path d="M5 0.5l0.6-0.5 1.4 1.4-0.5 0.6z" fill="#111"/></svg><svg class="dots" width="9" height="3" viewBox="0 0 9 3"><g fill="#444"><circle cx="0.8" cy="1.5" r="0.55"/><circle cx="2.95" cy="1.5" r="0.55"/><circle cx="5.1" cy="1.5" r="0.55"/><circle cx="7.25" cy="1.5" r="0.55"/></g></svg></span><span class="ai" style="left:455.5px;background:#e8311f"><svg width="7" height="7" viewBox="0 0 7 7" style="margin-top:0.6px"><rect x="0.9" y="1.3" width="5.2" height="4.9" rx="0.5" fill="none" stroke="#fff" stroke-width="0.85"/><rect x="0.9" y="1.3" width="5.2" height="1.5" fill="#fff"/><rect x="1.7" y="0.4" width="0.8" height="1.3" fill="#fff"/><rect x="4.5" y="0.4" width="0.8" height="1.3" fill="#fff"/><rect x="2.6" y="3.8" width="1.8" height="1.3" fill="#fff" opacity="0.55"/></svg></span><span class="ai" style="left:476px;background:#951326"><svg width="7" height="8" viewBox="0 0 7 8" style="margin-top:0.4px"><path d="M0.6 0.6h4l1.9 1.9v5h-5.9z" fill="#fff"/><path d="M4.6 0.6v1.9h1.9" fill="none" stroke="#c9a0a6" stroke-width="0.5"/><rect x="2.4" y="4" width="1.4" height="1.4" fill="#c77" opacity="0.8"/></svg></span><span class="ai ai2" style="left:495.5px;background:#b4b4b4"><span class="dol">$</span></span><span class="rd">25/<i class="n1">1</i>0/20<i class="n1">1</i>9</span><span class="nt ntp"><svg width="5.4" height="5.4" viewBox="0 0 6 6"><path d="M3 0.3v5.4M0.3 3h5.4" stroke="#3d9de2" stroke-width="1.25"/></svg></span><span class="opt">Options <i class="car"></i></span></div>
<div class="row" style="top:356.10px"><span class="cn"><i class="uc">JEBEDIAH</i> <i class="uc">SPRINGFIELD</i> <i class="uc">PTY</i> <i class="uc">LTD</i></span><span class="cno">987 654 320</span><span class="jur">Australia</span><span class="lab"><span class="chip">Rocco Agostino</span><span class="chip">Melbourne Office</span><svg class="pen" width="7" height="7" viewBox="0 0 7 7"><path d="M0.3 6.7l0.5-2 3.9-3.9 1.5 1.5-3.9 3.9z" fill="#111"/><path d="M5 0.5l0.6-0.5 1.4 1.4-0.5 0.6z" fill="#111"/></svg><svg class="dots" width="9" height="3" viewBox="0 0 9 3"><g fill="#444"><circle cx="0.8" cy="1.5" r="0.55"/><circle cx="2.95" cy="1.5" r="0.55"/><circle cx="5.1" cy="1.5" r="0.55"/><circle cx="7.25" cy="1.5" r="0.55"/></g></svg></span><span class="ai" style="left:455.5px;background:#b4b4b4"><svg width="7" height="7" viewBox="0 0 7 7" style="margin-top:0.6px"><rect x="0.9" y="1.3" width="5.2" height="4.9" rx="0.5" fill="none" stroke="#fff" stroke-width="0.85"/><rect x="0.9" y="1.3" width="5.2" height="1.5" fill="#fff"/><rect x="1.7" y="0.4" width="0.8" height="1.3" fill="#fff"/><rect x="4.5" y="0.4" width="0.8" height="1.3" fill="#fff"/><rect x="2.6" y="3.8" width="1.8" height="1.3" fill="#fff" opacity="0.55"/></svg></span><span class="ai" style="left:476px;background:#951326"><svg width="8" height="8" viewBox="0 0 8 8"><rect x="0.9" y="1.2" width="4" height="4" rx="1.4" fill="none" stroke="#fff" stroke-width="1.05" transform="rotate(-30 2.9 3.2)"/><rect x="3.1" y="2.9" width="4" height="4" rx="1.4" fill="none" stroke="#fff" stroke-width="1.05" transform="rotate(-30 5.1 4.9)"/></svg></span><span class="ai ai2" style="left:495.5px;background:#e3b345"><span class="dol">$</span></span><span class="rd">22/06/2020</span><span class="nt ntp"><svg width="5.4" height="5.4" viewBox="0 0 6 6"><path d="M3 0.3v5.4M0.3 3h5.4" stroke="#3d9de2" stroke-width="1.25"/></svg></span><span class="opt">Options <i class="car"></i></span></div>
<div class="row" style="top:374.64px"><span class="cn">Lilli Pty Ltd</span><span class="cno">005 749 986</span><span class="jur">Australia</span><span class="lab"><svg class="pen" width="7" height="7" viewBox="0 0 7 7"><path d="M0.3 6.7l0.5-2 3.9-3.9 1.5 1.5-3.9 3.9z" fill="#111"/><path d="M5 0.5l0.6-0.5 1.4 1.4-0.5 0.6z" fill="#111"/></svg><svg class="dots" width="9" height="3" viewBox="0 0 9 3"><g fill="#444"><circle cx="0.8" cy="1.5" r="0.55"/><circle cx="2.95" cy="1.5" r="0.55"/><circle cx="5.1" cy="1.5" r="0.55"/><circle cx="7.25" cy="1.5" r="0.55"/></g></svg></span><span class="ai" style="left:455.5px;background:#7cc122"><svg width="7" height="7" viewBox="0 0 7 7" style="margin-top:0.6px"><rect x="0.9" y="1.3" width="5.2" height="4.9" rx="0.5" fill="none" stroke="#fff" stroke-width="0.85"/><rect x="0.9" y="1.3" width="5.2" height="1.5" fill="#fff"/><rect x="1.7" y="0.4" width="0.8" height="1.3" fill="#fff"/><rect x="4.5" y="0.4" width="0.8" height="1.3" fill="#fff"/><rect x="2.6" y="3.8" width="1.8" height="1.3" fill="#fff" opacity="0.55"/></svg></span><span class="ai" style="left:476px;background:#951326"><svg width="7" height="8" viewBox="0 0 7 8" style="margin-top:0.4px"><path d="M0.6 0.6h4l1.9 1.9v5h-5.9z" fill="#fff"/><path d="M4.6 0.6v1.9h1.9" fill="none" stroke="#c9a0a6" stroke-width="0.5"/><rect x="2.4" y="4" width="1.4" height="1.4" fill="#c77" opacity="0.8"/></svg></span><span class="ai ai2" style="left:495.5px;background:#e8311f"><span class="dol">$</span></span><span class="rd">22/06/2020</span><span class="nt ntp"><svg width="5.4" height="5.4" viewBox="0 0 6 6"><path d="M3 0.3v5.4M0.3 3h5.4" stroke="#3d9de2" stroke-width="1.25"/></svg></span><span class="opt">Options <i class="car"></i></span></div>
<div class="row" style="top:393.19px"><span class="cn">Looking Around For Something New Pty ...</span><span class="cno">550 656 <i class="n1">1</i>05</span><span class="jur">Australia</span><span class="lab"><span class="chip">Email</span><span class="chip">Cleo</span><span class="chip">Rhys</span><svg class="pen" width="7" height="7" viewBox="0 0 7 7"><path d="M0.3 6.7l0.5-2 3.9-3.9 1.5 1.5-3.9 3.9z" fill="#111"/><path d="M5 0.5l0.6-0.5 1.4 1.4-0.5 0.6z" fill="#111"/></svg><svg class="dots" width="9" height="3" viewBox="0 0 9 3"><g fill="#444"><circle cx="0.8" cy="1.5" r="0.55"/><circle cx="2.95" cy="1.5" r="0.55"/><circle cx="5.1" cy="1.5" r="0.55"/><circle cx="7.25" cy="1.5" r="0.55"/></g></svg></span><span class="ai" style="left:455.5px;background:#e8311f"><svg width="7" height="7" viewBox="0 0 7 7" style="margin-top:0.6px"><rect x="0.9" y="1.3" width="5.2" height="4.9" rx="0.5" fill="none" stroke="#fff" stroke-width="0.85"/><rect x="0.9" y="1.3" width="5.2" height="1.5" fill="#fff"/><rect x="1.7" y="0.4" width="0.8" height="1.3" fill="#fff"/><rect x="4.5" y="0.4" width="0.8" height="1.3" fill="#fff"/><rect x="2.6" y="3.8" width="1.8" height="1.3" fill="#fff" opacity="0.55"/></svg></span><span class="ai" style="left:476px;background:#951326"><svg width="8" height="8" viewBox="0 0 8 8"><rect x="0.9" y="1.2" width="4" height="4" rx="1.4" fill="none" stroke="#fff" stroke-width="1.05" transform="rotate(-30 2.9 3.2)"/><rect x="3.1" y="2.9" width="4" height="4" rx="1.4" fill="none" stroke="#fff" stroke-width="1.05" transform="rotate(-30 5.1 4.9)"/></svg></span><span class="ai ai2" style="left:495.5px;background:#b4b4b4"><span class="dol">$</span></span><span class="rd">27/05/20<i class="n1">1</i>7</span><span class="nt ntp"><svg width="5.4" height="5.4" viewBox="0 0 6 6"><path d="M3 0.3v5.4M0.3 3h5.4" stroke="#3d9de2" stroke-width="1.25"/></svg></span><span class="opt">Options <i class="car"></i></span></div>
<div class="row" style="top:411.73px"><span class="cn"><i class="uc">MATTHEW</i> <i class="uc">PTY</i> <i class="uc">LTD</i></span><span class="cno">746 <i class="n1">1</i>82 383</span><span class="jur">Australia</span><span class="lab"><span class="chip">Sydney Office</span><span class="chip">Rocco Agostino</span><svg class="pen" width="7" height="7" viewBox="0 0 7 7"><path d="M0.3 6.7l0.5-2 3.9-3.9 1.5 1.5-3.9 3.9z" fill="#111"/><path d="M5 0.5l0.6-0.5 1.4 1.4-0.5 0.6z" fill="#111"/></svg><svg class="dots" width="9" height="3" viewBox="0 0 9 3"><g fill="#444"><circle cx="0.8" cy="1.5" r="0.55"/><circle cx="2.95" cy="1.5" r="0.55"/><circle cx="5.1" cy="1.5" r="0.55"/><circle cx="7.25" cy="1.5" r="0.55"/></g></svg></span><span class="ai" style="left:455.5px;background:#e8311f"><svg width="7" height="7" viewBox="0 0 7 7" style="margin-top:0.6px"><rect x="0.9" y="1.3" width="5.2" height="4.9" rx="0.5" fill="none" stroke="#fff" stroke-width="0.85"/><rect x="0.9" y="1.3" width="5.2" height="1.5" fill="#fff"/><rect x="1.7" y="0.4" width="0.8" height="1.3" fill="#fff"/><rect x="4.5" y="0.4" width="0.8" height="1.3" fill="#fff"/><rect x="2.6" y="3.8" width="1.8" height="1.3" fill="#fff" opacity="0.55"/></svg></span><span class="ai" style="left:476px;background:#951326"><svg width="7" height="8" viewBox="0 0 7 8" style="margin-top:0.4px"><path d="M0.6 0.6h4l1.9 1.9v5h-5.9z" fill="#fff"/><path d="M4.6 0.6v1.9h1.9" fill="none" stroke="#c9a0a6" stroke-width="0.5"/><rect x="2.4" y="4" width="1.4" height="1.4" fill="#c77" opacity="0.8"/></svg></span><span class="ai ai2" style="left:495.5px;background:#e3b345"><span class="dol">$</span></span><span class="rd">22/06/20<i class="n1">1</i>7</span><span class="nt ntf"><span></span></span><span class="opt">Options <i class="car"></i></span></div>
<div class="row" style="top:430.27px"><span class="cn"><i class="uc">PABLO</i> 123 <i class="uc">PTY</i> <i class="uc">LTD</i></span><span class="cno"><i class="n1">1</i><i class="n1">1</i><i class="n1">1</i> <i class="n1">1</i><i class="n1">1</i><i class="n1">1</i> <i class="n1">1</i><i class="n1">1</i>4</span><span class="jur">Australia</span><span class="lab"><span class="chip">WA Office</span><span class="chip">Rocco Agostino</span><svg class="pen" width="7" height="7" viewBox="0 0 7 7"><path d="M0.3 6.7l0.5-2 3.9-3.9 1.5 1.5-3.9 3.9z" fill="#111"/><path d="M5 0.5l0.6-0.5 1.4 1.4-0.5 0.6z" fill="#111"/></svg><svg class="dots" width="9" height="3" viewBox="0 0 9 3"><g fill="#444"><circle cx="0.8" cy="1.5" r="0.55"/><circle cx="2.95" cy="1.5" r="0.55"/><circle cx="5.1" cy="1.5" r="0.55"/><circle cx="7.25" cy="1.5" r="0.55"/></g></svg></span><span class="ai" style="left:455.5px;background:#e8311f"><svg width="7" height="7" viewBox="0 0 7 7" style="margin-top:0.6px"><rect x="0.9" y="1.3" width="5.2" height="4.9" rx="0.5" fill="none" stroke="#fff" stroke-width="0.85"/><rect x="0.9" y="1.3" width="5.2" height="1.5" fill="#fff"/><rect x="1.7" y="0.4" width="0.8" height="1.3" fill="#fff"/><rect x="4.5" y="0.4" width="0.8" height="1.3" fill="#fff"/><rect x="2.6" y="3.8" width="1.8" height="1.3" fill="#fff" opacity="0.55"/></svg></span><span class="ai" style="left:476px;background:#b4b4b4"><svg width="7" height="8" viewBox="0 0 7 8" style="margin-top:0.4px"><path d="M0.6 0.6h4l1.9 1.9v5h-5.9z" fill="#fff"/><path d="M4.6 0.6v1.9h1.9" fill="none" stroke="#c9a0a6" stroke-width="0.5"/><rect x="2.4" y="4" width="1.4" height="1.4" fill="#c77" opacity="0.8"/></svg></span><span class="ai ai2" style="left:495.5px;background:#b4b4b4"><span class="dol">$</span></span><span class="rd">25/<i class="n1">1</i>0/20<i class="n1">1</i>9</span><span class="nt ntf"><span></span></span><span class="opt">Options <i class="car"></i></span></div>
<div class="row" style="top:448.82px"><span class="cn">Pablo <i class="uc">PTY</i> <i class="uc">LTD</i></span><span class="cno"><i class="n1">1</i><i class="n1">1</i><i class="n1">1</i> <i class="n1">1</i><i class="n1">1</i><i class="n1">1</i> <i class="n1">1</i><i class="n1">1</i>4</span><span class="jur">Australia</span><span class="lab"><svg class="pen" width="7" height="7" viewBox="0 0 7 7"><path d="M0.3 6.7l0.5-2 3.9-3.9 1.5 1.5-3.9 3.9z" fill="#111"/><path d="M5 0.5l0.6-0.5 1.4 1.4-0.5 0.6z" fill="#111"/></svg><svg class="dots" width="9" height="3" viewBox="0 0 9 3"><g fill="#444"><circle cx="0.8" cy="1.5" r="0.55"/><circle cx="2.95" cy="1.5" r="0.55"/><circle cx="5.1" cy="1.5" r="0.55"/><circle cx="7.25" cy="1.5" r="0.55"/></g></svg></span><span class="ai" style="left:455.5px;background:#e8311f"><svg width="7" height="7" viewBox="0 0 7 7" style="margin-top:0.6px"><rect x="0.9" y="1.3" width="5.2" height="4.9" rx="0.5" fill="none" stroke="#fff" stroke-width="0.85"/><rect x="0.9" y="1.3" width="5.2" height="1.5" fill="#fff"/><rect x="1.7" y="0.4" width="0.8" height="1.3" fill="#fff"/><rect x="4.5" y="0.4" width="0.8" height="1.3" fill="#fff"/><rect x="2.6" y="3.8" width="1.8" height="1.3" fill="#fff" opacity="0.55"/></svg></span><span class="ai" style="left:476px;background:#b4b4b4"><svg width="7" height="8" viewBox="0 0 7 8" style="margin-top:0.4px"><path d="M0.6 0.6h4l1.9 1.9v5h-5.9z" fill="#fff"/><path d="M4.6 0.6v1.9h1.9" fill="none" stroke="#c9a0a6" stroke-width="0.5"/><rect x="2.4" y="4" width="1.4" height="1.4" fill="#c77" opacity="0.8"/></svg></span><span class="ai ai2" style="left:495.5px;background:#b4b4b4"><span class="dol">$</span></span><span class="rd">20/09/20<i class="n1">1</i>9</span><span class="nt ntp"><svg width="5.4" height="5.4" viewBox="0 0 6 6"><path d="M3 0.3v5.4M0.3 3h5.4" stroke="#3d9de2" stroke-width="1.25"/></svg></span><span class="opt">Options <i class="car"></i></span></div>
<div class="row" style="top:467.37px"><span class="cn">Renden Investments Pty Ltd</span><span class="cno">550 675 35<i class="n1">1</i></span><span class="jur">Australia</span><span class="lab"><span class="chip">WA Office</span><span class="chip">Rocco Agostino</span><svg class="pen" width="7" height="7" viewBox="0 0 7 7"><path d="M0.3 6.7l0.5-2 3.9-3.9 1.5 1.5-3.9 3.9z" fill="#111"/><path d="M5 0.5l0.6-0.5 1.4 1.4-0.5 0.6z" fill="#111"/></svg><svg class="dots" width="9" height="3" viewBox="0 0 9 3"><g fill="#444"><circle cx="0.8" cy="1.5" r="0.55"/><circle cx="2.95" cy="1.5" r="0.55"/><circle cx="5.1" cy="1.5" r="0.55"/><circle cx="7.25" cy="1.5" r="0.55"/></g></svg></span><span class="ai" style="left:455.5px;background:#b4b4b4"><svg width="7" height="7" viewBox="0 0 7 7" style="margin-top:0.6px"><rect x="0.9" y="1.3" width="5.2" height="4.9" rx="0.5" fill="none" stroke="#fff" stroke-width="0.85"/><rect x="0.9" y="1.3" width="5.2" height="1.5" fill="#fff"/><rect x="1.7" y="0.4" width="0.8" height="1.3" fill="#fff"/><rect x="4.5" y="0.4" width="0.8" height="1.3" fill="#fff"/><rect x="2.6" y="3.8" width="1.8" height="1.3" fill="#fff" opacity="0.55"/></svg></span><span class="ai" style="left:476px;background:#b4b4b4"><svg width="7" height="8" viewBox="0 0 7 8" style="margin-top:0.4px"><path d="M0.6 0.6h4l1.9 1.9v5h-5.9z" fill="#fff"/><path d="M4.6 0.6v1.9h1.9" fill="none" stroke="#c9a0a6" stroke-width="0.5"/><rect x="2.4" y="4" width="1.4" height="1.4" fill="#c77" opacity="0.8"/></svg></span><span class="ai ai2" style="left:495.5px;background:#b4b4b4"><span class="dol">$</span></span><span class="rd">0<i class="n1">1</i>/06/2020</span><span class="nt ntp"><svg width="5.4" height="5.4" viewBox="0 0 6 6"><path d="M3 0.3v5.4M0.3 3h5.4" stroke="#3d9de2" stroke-width="1.25"/></svg></span><span class="opt">Options <i class="car"></i></span></div>
<div class="row" style="top:485.91px"><span class="cn">Rene Pty Ltd</span><span class="cno"></span><span class="jur">Australia</span><span class="lab"><svg class="pen" width="7" height="7" viewBox="0 0 7 7"><path d="M0.3 6.7l0.5-2 3.9-3.9 1.5 1.5-3.9 3.9z" fill="#111"/><path d="M5 0.5l0.6-0.5 1.4 1.4-0.5 0.6z" fill="#111"/></svg><svg class="dots" width="9" height="3" viewBox="0 0 9 3"><g fill="#444"><circle cx="0.8" cy="1.5" r="0.55"/><circle cx="2.95" cy="1.5" r="0.55"/><circle cx="5.1" cy="1.5" r="0.55"/><circle cx="7.25" cy="1.5" r="0.55"/></g></svg></span><span class="ai" style="left:455.5px;background:#b4b4b4"><svg width="7" height="7" viewBox="0 0 7 7" style="margin-top:0.6px"><rect x="0.9" y="1.3" width="5.2" height="4.9" rx="0.5" fill="none" stroke="#fff" stroke-width="0.85"/><rect x="0.9" y="1.3" width="5.2" height="1.5" fill="#fff"/><rect x="1.7" y="0.4" width="0.8" height="1.3" fill="#fff"/><rect x="4.5" y="0.4" width="0.8" height="1.3" fill="#fff"/><rect x="2.6" y="3.8" width="1.8" height="1.3" fill="#fff" opacity="0.55"/></svg></span><span class="ai" style="left:476px;background:#b4b4b4"><svg width="7" height="8" viewBox="0 0 7 8" style="margin-top:0.4px"><path d="M0.6 0.6h4l1.9 1.9v5h-5.9z" fill="#fff"/><path d="M4.6 0.6v1.9h1.9" fill="none" stroke="#c9a0a6" stroke-width="0.5"/><rect x="2.4" y="4" width="1.4" height="1.4" fill="#c77" opacity="0.8"/></svg></span><span class="ai ai2" style="left:495.5px;background:#b4b4b4"><span class="dol">$</span></span><span class="rd">30/03/2020</span><span class="nt ntp"><svg width="5.4" height="5.4" viewBox="0 0 6 6"><path d="M3 0.3v5.4M0.3 3h5.4" stroke="#3d9de2" stroke-width="1.25"/></svg></span><span class="opt">Options <i class="car"></i></span></div>
<div class="row" style="top:504.46px"><span class="cn">Rhys Davies Pty Ltd</span><span class="cno">550 656 <i class="n1">1</i>23</span><span class="jur">Australia</span><span class="lab"><span class="chip">Rhys</span><svg class="pen" width="7" height="7" viewBox="0 0 7 7"><path d="M0.3 6.7l0.5-2 3.9-3.9 1.5 1.5-3.9 3.9z" fill="#111"/><path d="M5 0.5l0.6-0.5 1.4 1.4-0.5 0.6z" fill="#111"/></svg><svg class="dots" width="9" height="3" viewBox="0 0 9 3"><g fill="#444"><circle cx="0.8" cy="1.5" r="0.55"/><circle cx="2.95" cy="1.5" r="0.55"/><circle cx="5.1" cy="1.5" r="0.55"/><circle cx="7.25" cy="1.5" r="0.55"/></g></svg></span><span class="ai" style="left:455.5px;background:#b4b4b4"><svg width="7" height="7" viewBox="0 0 7 7" style="margin-top:0.6px"><rect x="0.9" y="1.3" width="5.2" height="4.9" rx="0.5" fill="none" stroke="#fff" stroke-width="0.85"/><rect x="0.9" y="1.3" width="5.2" height="1.5" fill="#fff"/><rect x="1.7" y="0.4" width="0.8" height="1.3" fill="#fff"/><rect x="4.5" y="0.4" width="0.8" height="1.3" fill="#fff"/><rect x="2.6" y="3.8" width="1.8" height="1.3" fill="#fff" opacity="0.55"/></svg></span><span class="ai" style="left:476px;background:#b4b4b4"><svg width="7" height="8" viewBox="0 0 7 8" style="margin-top:0.4px"><path d="M0.6 0.6h4l1.9 1.9v5h-5.9z" fill="#fff"/><path d="M4.6 0.6v1.9h1.9" fill="none" stroke="#c9a0a6" stroke-width="0.5"/><rect x="2.4" y="4" width="1.4" height="1.4" fill="#c77" opacity="0.8"/></svg></span><span class="ai ai2" style="left:495.5px;background:#b4b4b4"><span class="dol">$</span></span><span class="rd">27/05/2020</span><span class="nt ntp"><svg width="5.4" height="5.4" viewBox="0 0 6 6"><path d="M3 0.3v5.4M0.3 3h5.4" stroke="#3d9de2" stroke-width="1.25"/></svg></span><span class="opt">Options <i class="car"></i></span></div>
<div class="row" style="top:523.00px"><span class="cn">Rocco Agostino <i class="uc">PTY</i> <i class="uc">LTD</i></span><span class="cno"><i class="n1">1</i><i class="n1">1</i><i class="n1">1</i> <i class="n1">1</i><i class="n1">1</i><i class="n1">1</i> <i class="n1">1</i><i class="n1">1</i>4</span><span class="jur">Australia</span><span class="lab"><svg class="pen" width="7" height="7" viewBox="0 0 7 7"><path d="M0.3 6.7l0.5-2 3.9-3.9 1.5 1.5-3.9 3.9z" fill="#111"/><path d="M5 0.5l0.6-0.5 1.4 1.4-0.5 0.6z" fill="#111"/></svg><svg class="dots" width="9" height="3" viewBox="0 0 9 3"><g fill="#444"><circle cx="0.8" cy="1.5" r="0.55"/><circle cx="2.95" cy="1.5" r="0.55"/><circle cx="5.1" cy="1.5" r="0.55"/><circle cx="7.25" cy="1.5" r="0.55"/></g></svg></span><span class="ai" style="left:455.5px;background:#b4b4b4"><svg width="7" height="7" viewBox="0 0 7 7" style="margin-top:0.6px"><rect x="0.9" y="1.3" width="5.2" height="4.9" rx="0.5" fill="none" stroke="#fff" stroke-width="0.85"/><rect x="0.9" y="1.3" width="5.2" height="1.5" fill="#fff"/><rect x="1.7" y="0.4" width="0.8" height="1.3" fill="#fff"/><rect x="4.5" y="0.4" width="0.8" height="1.3" fill="#fff"/><rect x="2.6" y="3.8" width="1.8" height="1.3" fill="#fff" opacity="0.55"/></svg></span><span class="ai" style="left:476px;background:#b4b4b4"><svg width="7" height="8" viewBox="0 0 7 8" style="margin-top:0.4px"><path d="M0.6 0.6h4l1.9 1.9v5h-5.9z" fill="#fff"/><path d="M4.6 0.6v1.9h1.9" fill="none" stroke="#c9a0a6" stroke-width="0.5"/><rect x="2.4" y="4" width="1.4" height="1.4" fill="#c77" opacity="0.8"/></svg></span><span class="ai ai2" style="left:495.5px;background:#b4b4b4"><span class="dol">$</span></span><span class="rd"><i class="n1">1</i>7/09/2020</span><span class="nt ntp"><svg width="5.4" height="5.4" viewBox="0 0 6 6"><path d="M3 0.3v5.4M0.3 3h5.4" stroke="#3d9de2" stroke-width="1.25"/></svg></span><span class="opt">Options <i class="car"></i></span></div>
<div class="row" style="top:541.55px"><span class="cn">Rocco Agostino Training <i class="uc">PTY</i> <i class="uc">LTD</i></span><span class="cno"><i class="n1">1</i><i class="n1">1</i><i class="n1">1</i> <i class="n1">1</i><i class="n1">1</i><i class="n1">1</i> <i class="n1">1</i><i class="n1">1</i>4</span><span class="jur">Australia</span><span class="lab"><svg class="pen" width="7" height="7" viewBox="0 0 7 7"><path d="M0.3 6.7l0.5-2 3.9-3.9 1.5 1.5-3.9 3.9z" fill="#111"/><path d="M5 0.5l0.6-0.5 1.4 1.4-0.5 0.6z" fill="#111"/></svg><svg class="dots" width="9" height="3" viewBox="0 0 9 3"><g fill="#444"><circle cx="0.8" cy="1.5" r="0.55"/><circle cx="2.95" cy="1.5" r="0.55"/><circle cx="5.1" cy="1.5" r="0.55"/><circle cx="7.25" cy="1.5" r="0.55"/></g></svg></span><span class="ai" style="left:455.5px;background:#b4b4b4"><svg width="7" height="7" viewBox="0 0 7 7" style="margin-top:0.6px"><rect x="0.9" y="1.3" width="5.2" height="4.9" rx="0.5" fill="none" stroke="#fff" stroke-width="0.85"/><rect x="0.9" y="1.3" width="5.2" height="1.5" fill="#fff"/><rect x="1.7" y="0.4" width="0.8" height="1.3" fill="#fff"/><rect x="4.5" y="0.4" width="0.8" height="1.3" fill="#fff"/><rect x="2.6" y="3.8" width="1.8" height="1.3" fill="#fff" opacity="0.55"/></svg></span><span class="ai" style="left:476px;background:#b4b4b4"><svg width="7" height="8" viewBox="0 0 7 8" style="margin-top:0.4px"><path d="M0.6 0.6h4l1.9 1.9v5h-5.9z" fill="#fff"/><path d="M4.6 0.6v1.9h1.9" fill="none" stroke="#c9a0a6" stroke-width="0.5"/><rect x="2.4" y="4" width="1.4" height="1.4" fill="#c77" opacity="0.8"/></svg></span><span class="ai ai2" style="left:495.5px;background:#b4b4b4"><span class="dol">$</span></span><span class="rd">06/<i class="n1">1</i>0/2020</span><span class="nt ntp"><svg width="5.4" height="5.4" viewBox="0 0 6 6"><path d="M3 0.3v5.4M0.3 3h5.4" stroke="#3d9de2" stroke-width="1.25"/></svg></span><span class="opt">Options <i class="car"></i></span></div>
<div class="row" style="top:560.09px"><span class="cn">Rocco Agotino</span><span class="cno"><i class="n1">1</i><i class="n1">1</i><i class="n1">1</i> <i class="n1">1</i><i class="n1">1</i><i class="n1">1</i> <i class="n1">1</i><i class="n1">1</i>4</span><span class="jur">Australia</span><span class="lab"><span class="chip">Rocco Agostino</span><span class="chip">Melbourne Office</span><svg class="pen" width="7" height="7" viewBox="0 0 7 7"><path d="M0.3 6.7l0.5-2 3.9-3.9 1.5 1.5-3.9 3.9z" fill="#111"/><path d="M5 0.5l0.6-0.5 1.4 1.4-0.5 0.6z" fill="#111"/></svg><svg class="dots" width="9" height="3" viewBox="0 0 9 3"><g fill="#444"><circle cx="0.8" cy="1.5" r="0.55"/><circle cx="2.95" cy="1.5" r="0.55"/><circle cx="5.1" cy="1.5" r="0.55"/><circle cx="7.25" cy="1.5" r="0.55"/></g></svg></span><span class="ai" style="left:455.5px;background:#b4b4b4"><svg width="7" height="7" viewBox="0 0 7 7" style="margin-top:0.6px"><rect x="0.9" y="1.3" width="5.2" height="4.9" rx="0.5" fill="none" stroke="#fff" stroke-width="0.85"/><rect x="0.9" y="1.3" width="5.2" height="1.5" fill="#fff"/><rect x="1.7" y="0.4" width="0.8" height="1.3" fill="#fff"/><rect x="4.5" y="0.4" width="0.8" height="1.3" fill="#fff"/><rect x="2.6" y="3.8" width="1.8" height="1.3" fill="#fff" opacity="0.55"/></svg></span><span class="ai" style="left:476px;background:#b4b4b4"><svg width="7" height="8" viewBox="0 0 7 8" style="margin-top:0.4px"><path d="M0.6 0.6h4l1.9 1.9v5h-5.9z" fill="#fff"/><path d="M4.6 0.6v1.9h1.9" fill="none" stroke="#c9a0a6" stroke-width="0.5"/><rect x="2.4" y="4" width="1.4" height="1.4" fill="#c77" opacity="0.8"/></svg></span><span class="ai ai2" style="left:495.5px;background:#b4b4b4"><span class="dol">$</span></span><span class="rd"><i class="n1">1</i>9/09/2020</span><span class="nt ntp"><svg width="5.4" height="5.4" viewBox="0 0 6 6"><path d="M3 0.3v5.4M0.3 3h5.4" stroke="#3d9de2" stroke-width="1.25"/></svg></span><span class="opt">Options <i class="car"></i></span></div>
<div class="row" style="top:578.63px"><span class="cn">Rocco Sydney Pty Ltd</span><span class="cno"></span><span class="jur">Australia</span><span class="lab"><svg class="pen" width="7" height="7" viewBox="0 0 7 7"><path d="M0.3 6.7l0.5-2 3.9-3.9 1.5 1.5-3.9 3.9z" fill="#111"/><path d="M5 0.5l0.6-0.5 1.4 1.4-0.5 0.6z" fill="#111"/></svg><svg class="dots" width="9" height="3" viewBox="0 0 9 3"><g fill="#444"><circle cx="0.8" cy="1.5" r="0.55"/><circle cx="2.95" cy="1.5" r="0.55"/><circle cx="5.1" cy="1.5" r="0.55"/><circle cx="7.25" cy="1.5" r="0.55"/></g></svg></span><span class="ai" style="left:455.5px;background:#b4b4b4"><svg width="7" height="7" viewBox="0 0 7 7" style="margin-top:0.6px"><rect x="0.9" y="1.3" width="5.2" height="4.9" rx="0.5" fill="none" stroke="#fff" stroke-width="0.85"/><rect x="0.9" y="1.3" width="5.2" height="1.5" fill="#fff"/><rect x="1.7" y="0.4" width="0.8" height="1.3" fill="#fff"/><rect x="4.5" y="0.4" width="0.8" height="1.3" fill="#fff"/><rect x="2.6" y="3.8" width="1.8" height="1.3" fill="#fff" opacity="0.55"/></svg></span><span class="ai" style="left:476px;background:#b4b4b4"><svg width="7" height="8" viewBox="0 0 7 8" style="margin-top:0.4px"><path d="M0.6 0.6h4l1.9 1.9v5h-5.9z" fill="#fff"/><path d="M4.6 0.6v1.9h1.9" fill="none" stroke="#c9a0a6" stroke-width="0.5"/><rect x="2.4" y="4" width="1.4" height="1.4" fill="#c77" opacity="0.8"/></svg></span><span class="ai ai2" style="left:495.5px;background:#b4b4b4"><span class="dol">$</span></span><span class="rd">25/09/2020</span><span class="nt ntp"><svg width="5.4" height="5.4" viewBox="0 0 6 6"><path d="M3 0.3v5.4M0.3 3h5.4" stroke="#3d9de2" stroke-width="1.25"/></svg></span><span class="opt">Options <i class="car"></i></span></div>
<div class="row" style="top:597.18px"><span class="cn">Rooster Year Fire Pty Ltd</span><span class="cno">550 676 429</span><span class="jur">Australia</span><span class="lab"><span class="chip">Rocco Agostino</span><svg class="pen" width="7" height="7" viewBox="0 0 7 7"><path d="M0.3 6.7l0.5-2 3.9-3.9 1.5 1.5-3.9 3.9z" fill="#111"/><path d="M5 0.5l0.6-0.5 1.4 1.4-0.5 0.6z" fill="#111"/></svg><svg class="dots" width="9" height="3" viewBox="0 0 9 3"><g fill="#444"><circle cx="0.8" cy="1.5" r="0.55"/><circle cx="2.95" cy="1.5" r="0.55"/><circle cx="5.1" cy="1.5" r="0.55"/><circle cx="7.25" cy="1.5" r="0.55"/></g></svg></span><span class="ai" style="left:455.5px;background:#7cc122"><svg width="7" height="7" viewBox="0 0 7 7" style="margin-top:0.6px"><rect x="0.9" y="1.3" width="5.2" height="4.9" rx="0.5" fill="none" stroke="#fff" stroke-width="0.85"/><rect x="0.9" y="1.3" width="5.2" height="1.5" fill="#fff"/><rect x="1.7" y="0.4" width="0.8" height="1.3" fill="#fff"/><rect x="4.5" y="0.4" width="0.8" height="1.3" fill="#fff"/><rect x="2.6" y="3.8" width="1.8" height="1.3" fill="#fff" opacity="0.55"/></svg></span><span class="ai" style="left:476px;background:#951326"><svg width="7" height="8" viewBox="0 0 7 8" style="margin-top:0.4px"><path d="M0.6 0.6h4l1.9 1.9v5h-5.9z" fill="#fff"/><path d="M4.6 0.6v1.9h1.9" fill="none" stroke="#c9a0a6" stroke-width="0.5"/><rect x="2.4" y="4" width="1.4" height="1.4" fill="#c77" opacity="0.8"/></svg></span><span class="ai ai2" style="left:495.5px;background:#b4b4b4"><span class="dol">$</span></span><span class="rd"><i class="n1">1</i>8/02/2009</span><span class="nt ntf"><span></span></span><span class="opt">Options <i class="car"></i></span></div>
<div class="row" style="top:615.73px"><span class="cn"><i class="uc">SOUVS</i> R <i class="uc">US</i> <i class="uc">PTY</i> <i class="uc">LTD</i></span><span class="cno"><i class="n1">1</i><i class="n1">1</i><i class="n1">1</i> <i class="n1">1</i><i class="n1">1</i><i class="n1">1</i> <i class="n1">1</i><i class="n1">1</i>4</span><span class="jur">Australia</span><span class="lab"><span class="chip">Rocco Agostino</span><svg class="pen" width="7" height="7" viewBox="0 0 7 7"><path d="M0.3 6.7l0.5-2 3.9-3.9 1.5 1.5-3.9 3.9z" fill="#111"/><path d="M5 0.5l0.6-0.5 1.4 1.4-0.5 0.6z" fill="#111"/></svg><svg class="dots" width="9" height="3" viewBox="0 0 9 3"><g fill="#444"><circle cx="0.8" cy="1.5" r="0.55"/><circle cx="2.95" cy="1.5" r="0.55"/><circle cx="5.1" cy="1.5" r="0.55"/><circle cx="7.25" cy="1.5" r="0.55"/></g></svg></span><span class="ai" style="left:455.5px;background:#b4b4b4"><svg width="7" height="7" viewBox="0 0 7 7" style="margin-top:0.6px"><rect x="0.9" y="1.3" width="5.2" height="4.9" rx="0.5" fill="none" stroke="#fff" stroke-width="0.85"/><rect x="0.9" y="1.3" width="5.2" height="1.5" fill="#fff"/><rect x="1.7" y="0.4" width="0.8" height="1.3" fill="#fff"/><rect x="4.5" y="0.4" width="0.8" height="1.3" fill="#fff"/><rect x="2.6" y="3.8" width="1.8" height="1.3" fill="#fff" opacity="0.55"/></svg></span><span class="ai" style="left:476px;background:#b4b4b4"><svg width="7" height="8" viewBox="0 0 7 8" style="margin-top:0.4px"><path d="M0.6 0.6h4l1.9 1.9v5h-5.9z" fill="#fff"/><path d="M4.6 0.6v1.9h1.9" fill="none" stroke="#c9a0a6" stroke-width="0.5"/><rect x="2.4" y="4" width="1.4" height="1.4" fill="#c77" opacity="0.8"/></svg></span><span class="ai ai2" style="left:495.5px;background:#b4b4b4"><span class="dol">$</span></span><span class="rd"><i class="n1">1</i>0/08/2020</span><span class="nt ntp"><svg width="5.4" height="5.4" viewBox="0 0 6 6"><path d="M3 0.3v5.4M0.3 3h5.4" stroke="#3d9de2" stroke-width="1.25"/></svg></span><span class="opt">Options <i class="car"></i></span></div><div class="abs" style="left:667.4px;top:190.8px;width:239px;height:130.3px;background:#fff;border:1px solid #d6d6d6;border-radius:4px;box-shadow:0 2px 7px rgba(0,0,0,.16)"></div><div class="abs" style="left:782px;top:186.9px;width:9px;height:9px;background:#fff;border-top:1px solid #cfcfcf;border-left:1px solid #cfcfcf;transform:rotate(45deg)"></div><div class="abs" style="left:686.6px;top:203.5px;font-size:10.66px;line-height:13px;color:#6aa22a;white-space:nowrap">Upcoming Annual Review</div><div class="abs" style="left:687.6px;top:226.1px;width:210px;font-size:8.05px;line-height:13.1px;word-spacing:0.3px;color:#7a7a7a"><b style="color:#555">ANDREW PTY LTD</b> has an annual review due on <b style="color:#555">08/11/2019.</b> To view all annual reviews received from ASIC click here</div><div class="abs" style="left:687.4px;top:273.4px;width:199px;height:20.8px;border:1px solid #d6d6d6;border-radius:3px;background:linear-gradient(#fdfdfd,#f1f1f1);box-shadow:0 1px 1px rgba(0,0,0,.08);text-align:center;font-size:7.6px;line-height:19px;color:#5f9c22">Go to Annual Reviews</div><div id="top"></div><svg id="logo" width="22" height="22" viewBox="0 0 22 22"><circle cx="10.5" cy="10.8" r="9.1" fill="none" stroke="#f4f8ec" stroke-width="1.25" stroke-dasharray="12.9 1.4" stroke-dashoffset="-0.7"/><text x="4.1" y="13.3" font-family="Liberation Sans" font-weight="bold" font-size="9.2" fill="#f4f8ec" stroke="#f4f8ec" stroke-width="0.35" textLength="11.8" lengthAdjust="spacingAndGlyphs">bgl</text><circle cx="18.9" cy="12.3" r="1.9" fill="#71a505"/><circle cx="18.9" cy="12.3" r="1.25" fill="#fff"/></svg><div id="sbox"><span>Search...</span><svg class="abs" style="left:221px;top:3.5px" width="9" height="9" viewBox="0 0 9 9"><circle cx="5.3" cy="3.7" r="3" fill="none" stroke="#89a850" stroke-width="0.9"/><path d="M3.2 5.8L0.8 8.2" stroke="#89a850" stroke-width="1"/></svg></div><div class="abs" style="left:756.7px;top:52.8px;width:61.1px;height:15.2px;background:#f1ad45;border-radius:3px;box-shadow:0 1px 0 #c88a30;color:#fff;font-size:7.07px;font-weight:bold;line-height:15px;padding-left:5.2px">Community</div><svg class="abs" style="left:803.5px;top:57.3px" width="9.6" height="7" viewBox="0 0 12 8"><g fill="#fff"><circle cx="2.5" cy="2" r="1.5"/><circle cx="9.5" cy="2" r="1.5"/><circle cx="6" cy="2.3" r="1.9"/><path d="M0 6.5c0-2 1-3 2.5-3s2.5 1 2.5 3z"/><path d="M7 6.5c0-2 1-3 2.5-3s2.5 1 2.5 3z"/><path d="M2.8 8c0-2.6 1.4-3.8 3.2-3.8s3.2 1.2 3.2 3.8z"/></g></svg><div class="abs" style="left:829.4px;top:52.8px;width:55.3px;height:15.2px;background:#f1ad45;border-radius:3px;box-shadow:0 1px 0 #c88a30;color:#fff;font-size:7.26px;font-weight:bold;line-height:15px;padding-left:5.2px">Feedback</div><svg class="abs" style="left:871px;top:57.6px" width="8.4" height="6.7" viewBox="0 0 10 8"><g fill="#fff"><ellipse cx="4" cy="3" rx="4" ry="2.8"/><ellipse cx="6.5" cy="4.8" rx="3.4" ry="2.4"/></g><path d="M1 5.5l-0.8 2 2.3-1.2z" fill="#fff"/></svg><svg class="abs" style="left:896px;top:55.5px" width="12" height="11" viewBox="0 0 12 11"><path d="M6 1c-2.5 0-3.4 1.9-3.4 3.9v2L0.8 8.6h10.4L9.4 6.9v-2C9.4 2.9 8.5 1 6 1z" fill="#f3ec78"/><circle cx="6" cy="9.6" r="1.2" fill="#f3ec78"/></svg><div class="abs" style="left:896.8px;top:50.8px;width:12.6px;height:7.8px;border-radius:2px;background:#d9448c;color:#fff;font-size:5.8px;font-weight:bold;line-height:7.8px;text-align:center;letter-spacing:-0.2px">171</div><svg class="abs" style="left:918px;top:55px" width="12.5" height="12.5" viewBox="0 0 12 12"><circle cx="6" cy="6" r="5.2" fill="none" stroke="#fff" stroke-width="1.2"/><path d="M4.3 4.6c0-1.1.8-1.8 1.8-1.8s1.8.7 1.8 1.6c0 1.3-1.7 1.3-1.7 2.7" fill="none" stroke="#fff" stroke-width="1.2"/><circle cx="6.1" cy="8.9" r="0.75" fill="#fff"/></svg><svg class="abs" style="left:941.3px;top:54.6px" width="11.5" height="11.5" viewBox="0 0 12 12"><path d="M2.6 0.8l1.7 2.4c.3.5.2 1-.2 1.4l-.8.7c.6 1.4 1.8 2.6 3.2 3.3l.8-.8c.4-.4.9-.5 1.4-.2l2.4 1.6c.4.3.5.8.2 1.2l-.9 1.2c-.5.5-1.2.7-1.9.4C4.8 10.6 1.6 7.3.5 3.9.3 3.2.5 2.5 1 2l1-1c.2-.3.4-.3.6-.2z" fill="#fff"/></svg><svg class="abs" style="left:964px;top:56.2px" width="10.6" height="10.6" viewBox="0 0 12 12"><path d="M3.6 2.6A4.7 4.7 0 1 0 8.4 2.6" fill="none" stroke="#fff" stroke-width="1.3" stroke-linecap="round"/><path d="M6 0.8v5" stroke="#fff" stroke-width="1.3" stroke-linecap="round"/></svg><div class="abs" style="left:981.6px;top:54px;width:0.8px;height:15px;background:#4f8a0d"></div><svg class="abs" style="left:989.2px;top:57px" width="9" height="9" viewBox="0 0 8.8 8.8"><rect x="0" y="0" width="2.2" height="2.2" fill="#fff"/><rect x="0" y="3.3" width="2.2" height="2.2" fill="#fff"/><rect x="0" y="6.6" width="2.2" height="2.2" fill="#fff"/><rect x="3.3" y="0" width="2.2" height="2.2" fill="#fff"/><rect x="3.3" y="3.3" width="2.2" height="2.2" fill="#fff"/><rect x="3.3" y="6.6" width="2.2" height="2.2" fill="#fff"/><rect x="6.6" y="0" width="2.2" height="2.2" fill="#fff"/><rect x="6.6" y="3.3" width="2.2" height="2.2" fill="#fff"/><rect x="6.6" y="6.6" width="2.2" height="2.2" fill="#fff"/></svg><svg class="abs" style="left:1010.8px;top:56.2px" width="10.4" height="10.4" viewBox="0 0 12 12"><circle cx="6" cy="6" r="6" fill="#fff"/><circle cx="6" cy="4.3" r="2" fill="#6aa812"/><path d="M2.3 9.6c.6-1.9 2-2.7 3.7-2.7s3.1.8 3.7 2.7A5 5 0 0 1 2.3 9.6z" fill="#6aa812"/></svg></div><div id="scrbd"></div></body></html>
